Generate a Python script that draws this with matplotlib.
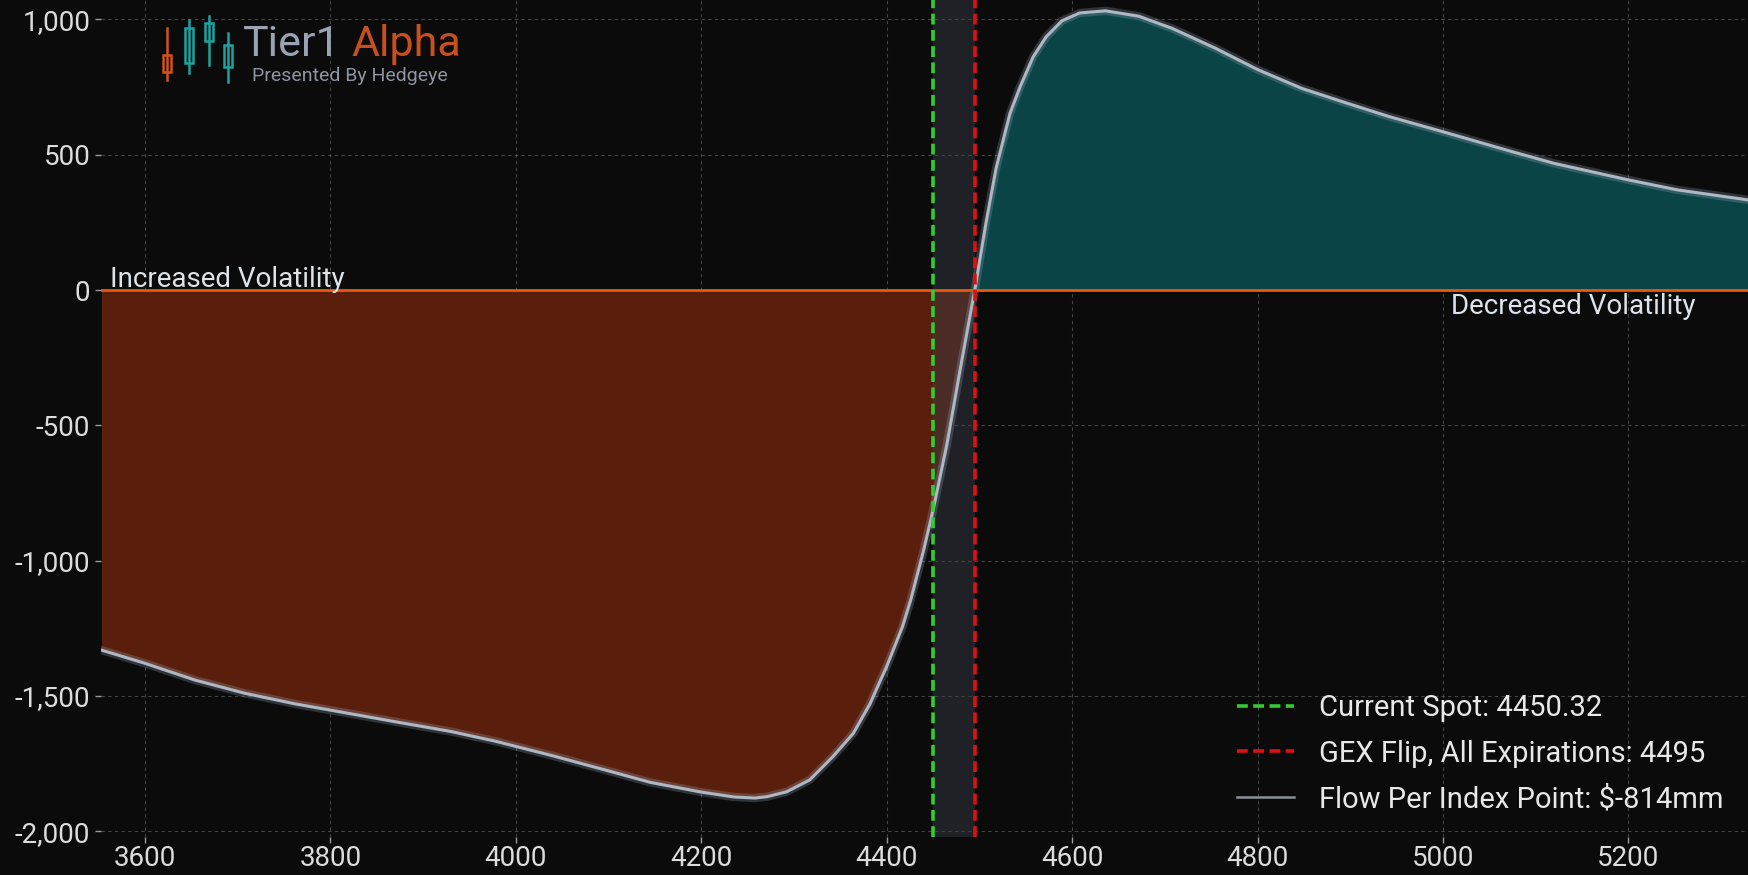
import matplotlib
matplotlib.use("Agg")
import matplotlib.pyplot as plt
from matplotlib.patches import Rectangle
from matplotlib.lines import Line2D
import numpy as np

# ---- data ----
strikes = [3553, 3600, 3654, 3708, 3762, 3800, 3870, 3930, 3978, 4040, 4096, 4145,
           4200, 4235, 4258, 4271, 4292, 4317, 4342, 4364, 4382, 4393, 4400, 4417,
           4426, 4440, 4450, 4465, 4480, 4495, 4507, 4518, 4533, 4544, 4558, 4572,
           4589, 4608, 4636, 4672, 4708, 4755, 4800, 4848, 4897, 4942, 5000, 5075,
           5120, 5200, 5253, 5329]
flow = [-1331, -1380, -1442, -1491, -1530, -1553, -1596, -1632, -1668, -1722, -1774, -1820,
        -1856, -1874, -1878, -1873, -1855, -1811, -1725, -1639, -1530, -1445, -1392, -1245,
        -1145, -960, -814, -570, -280, 0, 246, 450, 653, 752, 862, 936,
        995, 1024, 1032, 1012, 967, 893, 815, 745, 690, 641, 585, 511,
        468, 407, 370, 333]
spot = 4450.32
gex_flip = 4495
flow_per_point = -814
x_ticks = [3600, 3800, 4000, 4200, 4400, 4600, 4800, 5000, 5200]
y_ticks = [-2000, -1500, -1000, -500, 0, 500, 1000]

plt.rcParams['font.family'] = ['Roboto', 'DejaVu Sans']

W, H = 1748, 875
fig = plt.figure(figsize=(W / 100, H / 100), dpi=100)
bg = '#0b0b0b'
fig.patch.set_facecolor(bg)
ax = fig.add_axes([101.4 / W, 38 / H, (W - 101.4) / W, 837 / H])
ax.set_facecolor(bg)

x = np.array(strikes, dtype=float)
y = np.array(flow, dtype=float)

ax.fill_between(x, y, 0, where=y <= 0, interpolate=True, color='#5a1f0c', lw=0, zorder=1)
ax.fill_between(x, y, 0, where=y >= 0, interpolate=True, color='#0a4446', lw=0, zorder=1)
ax.axvspan(spot, gex_flip, color='#3a3e48', alpha=0.45, lw=0, zorder=2)

ax.plot(x, y, color='#9fb0c0', lw=6, alpha=0.25, zorder=3, solid_capstyle='round')
ax.plot(x, y, color='#aeb8c4', lw=2.2, zorder=4)
ax.axhline(0, color='#e8590c', lw=2, zorder=5)
ax.axvline(spot, color='#33cc33', lw=2.6, ls=(0, (3, 1.5)), zorder=6)
ax.axvline(gex_flip, color='#e01010', lw=2.6, ls=(0, (3, 1.5)), zorder=6)

ax.set_xlim(x[0], x[-1])
ax.set_ylim(-2022, 1072)
ax.set_xticks(x_ticks)
ax.set_yticks(y_ticks)
ax.set_xticklabels([str(v) for v in x_ticks])
ax.set_yticklabels([f"{v:,}" for v in y_ticks])
ax.grid(True, color='#8a8a8a', ls=(0, (3, 3)), lw=0.8, alpha=0.45, zorder=0)
ax.set_axisbelow(True)
for s in ax.spines.values():
    s.set_visible(False)
ax.tick_params(colors='#9a9a9a', labelcolor='#dcdcdc', labelsize=20, length=4, width=1)
ax.tick_params(axis='x', pad=1.5)
ax.tick_params(axis='y', pad=4)

ax.annotate('Increased Volatility', xy=(0.005, 0), xycoords=('axes fraction', 'data'),
            xytext=(0, 2), textcoords='offset points', ha='left', va='baseline',
            fontsize=20, color='#dde3ea', zorder=7)
ax.annotate('Decreased Volatility', xy=(0.968, 0), xycoords=('axes fraction', 'data'),
            xytext=(0, -2), textcoords='offset points', ha='right', va='top',
            fontsize=20, color='#dde3ea', zorder=7)

handles = [
    Line2D([], [], color='#33cc33', lw=2.6, ls=(0, (3, 1.5))),
    Line2D([], [], color='#e01010', lw=2.6, ls=(0, (3, 1.5))),
    Line2D([], [], color='#8a8f98', lw=1.8),
]
labels = [f'Current Spot: {spot}', f'GEX Flip, All Expirations: {gex_flip}',
          f'Flow Per Index Point: ${flow_per_point}mm']
leg = fig.legend(handles, labels, loc='upper left', bbox_to_anchor=(1237 / W, 1 - 694 / H),
                 bbox_transform=fig.transFigure, frameon=False, fontsize=21,
                 labelcolor='#e8e8e8', handlelength=1.95, handletextpad=0.86,
                 labelspacing=0.6, borderpad=0, borderaxespad=0)

# ---- logo (decoration) ----
def px(xp, yp):
    return xp / W, 1 - yp / H

candles = [(166.7, 28, 80, 55, 72, '#d2521a'),
           (189, 20, 73, 28, 63, '#1aa3a0'),
           (209, 16, 65, 23, 41, '#1aa3a0'),
           (228, 33, 82, 45, 67, '#1aa3a0')]
for cx, w0, w1, b0, b1, c in candles:
    fig.add_artist(Line2D([cx / W, cx / W], [1 - w0 / H, 1 - w1 / H], color=c, lw=1.8,
                          transform=fig.transFigure))
    fig.add_artist(Rectangle((cx / W - 4 / W, 1 - b1 / H), 8 / W, (b1 - b0) / H,
                             transform=fig.transFigure, facecolor=bg, edgecolor=c, lw=1.8))
t1 = fig.text(*px(243, 56), 'Tier1', fontsize=31, color='#9aa3b3', ha='left', va='baseline')
fig.canvas.draw()
bb = t1.get_window_extent()
fig.text((bb.x1 + 11) / W, 1 - 56 / H, 'Alpha', fontsize=31, color='#c8501e', ha='left', va='baseline')
fig.text(*px(252, 81), 'Presented By Hedgeye', fontsize=14, color='#8d95a3', ha='left', va='baseline')

fig.savefig('out.png', dpi=100, facecolor=bg)
